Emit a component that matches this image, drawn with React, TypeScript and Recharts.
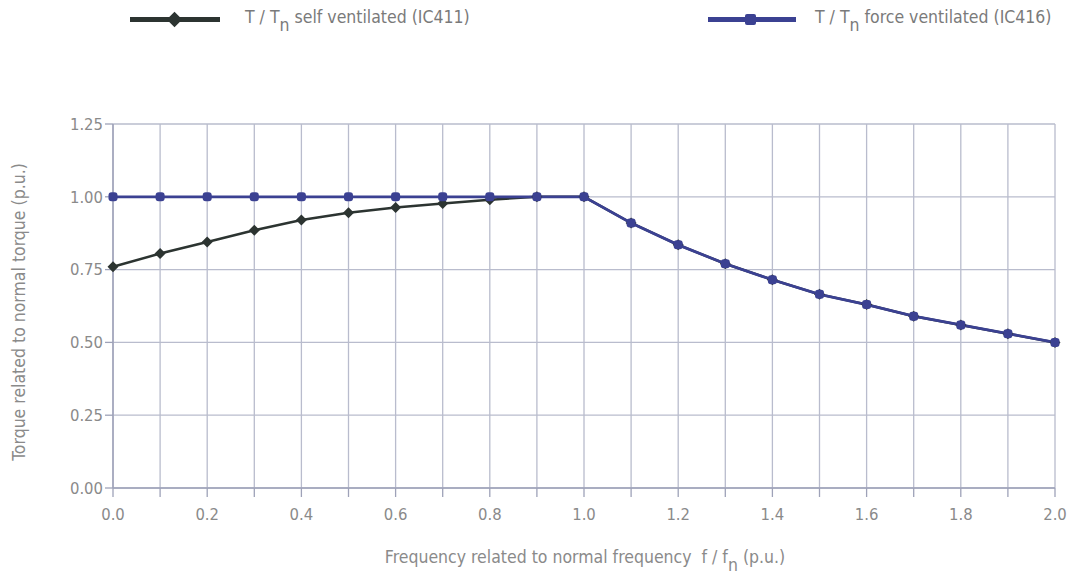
import { LineChart, Line, XAxis, YAxis, CartesianGrid } from 'recharts';

// f / f_n (p.u.)
const freq = [0, 0.1, 0.2, 0.3, 0.4, 0.5, 0.6, 0.7, 0.8, 0.9, 1.0, 1.1, 1.2, 1.3, 1.4, 1.5, 1.6, 1.7, 1.8, 1.9, 2.0];
// T / T_n self ventilated (IC411)
const selfVent = [0.76, 0.805, 0.845, 0.885, 0.92, 0.945, 0.963, 0.977, 0.99, 1.0, 1.0, 0.91, 0.835, 0.77, 0.715, 0.665, 0.63, 0.59, 0.56, 0.53, 0.5];
// T / T_n force ventilated (IC416)
const forceVent = [1.0, 1.0, 1.0, 1.0, 1.0, 1.0, 1.0, 1.0, 1.0, 1.0, 1.0, 0.91, 0.835, 0.77, 0.715, 0.665, 0.63, 0.59, 0.56, 0.53, 0.5];

const xTicks = [0, 0.1, 0.2, 0.3, 0.4, 0.5, 0.6, 0.7, 0.8, 0.9, 1.0, 1.1, 1.2, 1.3, 1.4, 1.5, 1.6, 1.7, 1.8, 1.9, 2.0];
const yTicks = [0, 0.25, 0.5, 0.75, 1.0, 1.25];

const data = freq.map((f, i) => ({ f, self: selfVent[i], force: forceVent[i] }));

const SELF_COLOR = '#2c3431';
const FORCE_COLOR = '#3b4192';
const TEXT_COLOR = '#8a8a8a';
const GRID_COLOR = '#b9bccd';
const AXIS_COLOR = '#9ea2b8';
const FONT = '"DejaVu Sans Condensed", "Liberation Sans Narrow", "Open Sans", sans-serif';

const Diamond = (props: any) => {
  const { cx, cy, index } = props;
  if (cx == null || cy == null) return null;
  const r = 5.5;
  return (
    <path
      key={`d-${index}`}
      d={`M${cx},${cy - r} L${cx + r},${cy} L${cx},${cy + r} L${cx - r},${cy} Z`}
      fill={SELF_COLOR}
    />
  );
};

const Square = (props: any) => {
  const { cx, cy, index } = props;
  if (cx == null || cy == null) return null;
  return <rect key={`s-${index}`} x={cx - 4.5} y={cy - 4.5} width={9} height={9} rx={3} fill={FORCE_COLOR} />;
};

const XTick = (props: any) => {
  const { x, y, payload } = props;
  const v = Math.round(payload.value * 10);
  return (
    <g>
      <line x1={x} y1={y - 8} x2={x} y2={y + 1} stroke={AXIS_COLOR} strokeWidth={1.3} />
      {v % 2 === 0 && (
        <text x={x} y={y + 24} textAnchor="middle" fill={TEXT_COLOR} fontSize={16.5} fontFamily={FONT}>
          {payload.value.toFixed(1)}
        </text>
      )}
    </g>
  );
};

const subStyle = { fontSize: 'inherit', verticalAlign: -8, lineHeight: 0 } as const;

export default function App() {
  return (
    <div style={{ position: 'absolute', left: 0, top: 0, width: 1071, height: 574, background: '#fff', fontFamily: FONT }}>
      {/* legend */}
      <div style={{ position: 'absolute', left: 130, top: 17, width: 90, height: 5, background: SELF_COLOR }} />
      <div style={{ position: 'absolute', left: 169, top: 14, width: 11, height: 11, background: SELF_COLOR, transform: 'rotate(45deg)' }} />
      <div style={{ position: 'absolute', left: 245, top: 7, fontSize: 17.5, color: '#7a7a7a', whiteSpace: 'nowrap', lineHeight: '20px' }}>
        T / T<sub style={subStyle}>n</sub> self ventilated (IC411)
      </div>
      <div style={{ position: 'absolute', left: 708, top: 17, width: 88, height: 5, background: FORCE_COLOR }} />
      <div style={{ position: 'absolute', left: 745, top: 14, width: 11, height: 11, background: FORCE_COLOR, borderRadius: 2 }} />
      <div style={{ position: 'absolute', left: 815, top: 7, fontSize: 17.5, color: '#7a7a7a', whiteSpace: 'nowrap', lineHeight: '20px' }}>
        T / T<sub style={subStyle}>n</sub> force ventilated (IC416)
      </div>

      {/* y axis title */}
      <div
        style={{
          position: 'absolute', left: 19, top: 312, transform: 'translate(-50%, -50%) rotate(-90deg)',
          fontSize: 17.5, color: TEXT_COLOR, whiteSpace: 'nowrap', lineHeight: '20px',
        }}
      >
        Torque related to normal torque (p.u.)
      </div>
      {/* x axis title */}
      <div style={{ position: 'absolute', left: 585, top: 547, transform: 'translateX(-50%)', fontSize: 17.5, color: TEXT_COLOR, whiteSpace: 'nowrap', lineHeight: '20px' }}>
        Frequency related to normal frequency&nbsp; f / f<sub style={subStyle}>n</sub> (p.u.)
      </div>

      <LineChart width={1071} height={574} data={data} margin={{ top: 124, right: 16, bottom: 56, left: 0 }}>
        <CartesianGrid stroke={GRID_COLOR} strokeWidth={1.3} />
        <XAxis
          dataKey="f"
          type="number"
          domain={[0, 2]}
          ticks={xTicks}
          interval={0}
          height={30}
          tick={<XTick />}
          tickLine={false}
          axisLine={{ stroke: AXIS_COLOR, strokeWidth: 1.5 }}
        />
        <YAxis
          type="number"
          domain={[0, 1.25]}
          ticks={yTicks}
          width={113}
          tickSize={8}
          tickLine={{ stroke: AXIS_COLOR, strokeWidth: 1.3 }}
          axisLine={{ stroke: AXIS_COLOR, strokeWidth: 1.5 }}
          tick={{ fill: TEXT_COLOR, fontSize: 16.5, fontFamily: FONT }}
          tickFormatter={(v: number) => v.toFixed(2)}
        />
        <Line dataKey="self" stroke={SELF_COLOR} strokeWidth={2.5} dot={<Diamond />} isAnimationActive={false} />
        <Line dataKey="force" stroke={FORCE_COLOR} strokeWidth={2.8} dot={<Square />} isAnimationActive={false} />
      </LineChart>
    </div>
  );
}
